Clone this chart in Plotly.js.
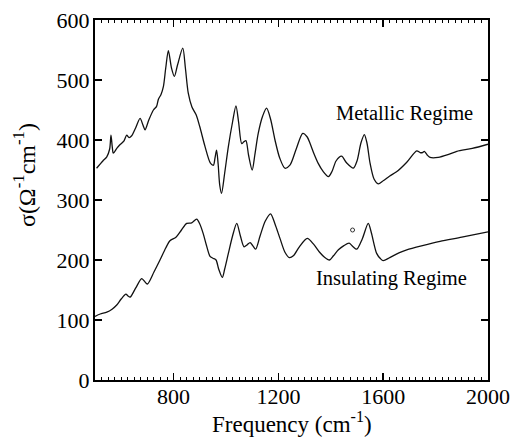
<!DOCTYPE html>
<html>
<head>
<meta charset="utf-8">
<script src="https://cdn.plot.ly/plotly-3.0.1.min.js"></script>
<style>html,body{margin:0;padding:0;background:#fff;}#chart{width:511px;height:440px;}</style>
</head>
<body>
<div id="chart"></div>
<script>
// Metallic regime
const metFreq = [506,530,545,556,561,566,570,583,595,610,621,630,640,655,672,683,691,705,723,735,742,752,761,770,780,792,803,815,835,845,856,870,886,900,920,940,952,958,964,970,976,983,995,1009,1025,1038,1048,1060,1068,1076,1086,1100,1110,1123,1140,1155,1170,1187,1205,1225,1244,1268,1293,1310,1321,1335,1352,1370,1391,1405,1420,1441,1460,1486,1500,1515,1528,1538,1550,1565,1581,1600,1625,1651,1690,1728,1741,1750,1757,1768,1779,1810,1850,1881,1940,2000];
const metSigma = [353,365,372,385,408,388,378,386,392,398,408,404,407,420,436,425,417,433,450,456,468,476,489,520,549,520,506,525,553,520,478,455,442,422,389,362,358,370,383,360,325,311,345,389,430,457,430,394,397,399,375,350,375,411,440,453,435,400,370,353,358,385,411,405,394,378,361,348,339,348,365,373,362,353,365,395,409,395,361,335,327,332,340,347,363,382,379,379,381,375,371,371,376,381,386,393];

// Insulating regime
const insFreq = [500,520,545,565,583,600,618,626,634,655,678,688,700,725,748,770,786,809,830,850,869,888,900,913,925,939,950,962,972,986,995,1009,1025,1041,1055,1069,1080,1092,1102,1113,1130,1150,1170,1187,1206,1225,1242,1257,1280,1310,1335,1359,1375,1395,1410,1429,1450,1470,1485,1499,1520,1543,1555,1575,1590,1600,1625,1660,1690,1750,1817,1900,2000];
const insSigma = [106,110,113,118,125,135,143,140,138,153,169,165,160,180,200,220,232,238,250,261,262,268,260,244,225,206,203,200,185,171,185,211,240,261,240,222,225,229,224,218,240,265,277,260,236,213,204,207,222,236,226,212,205,200,207,217,224,228,222,218,235,261,245,211,202,199,204,212,217,224,231,238,247];

// Stray dot
const dotFreq = [1483];
const dotSigma = [250];

// Tick labels
const xTickVals = [800,1200,1600,2000];
const xTickText = ['800','1200','1600','2000'];
const yTickVals = [0,100,200,300,400,500,600];

const serif = 'Liberation Serif, Times New Roman, DejaVu Serif, serif';

const traces = [
  {x: metFreq, y: metSigma, mode: 'lines', line: {color: '#111', width: 1.3, shape: 'spline', smoothing: 0.8}, hoverinfo: 'skip'},
  {x: insFreq, y: insSigma, mode: 'lines', line: {color: '#111', width: 1.3, shape: 'spline', smoothing: 0.8}, hoverinfo: 'skip'},
  {x: dotFreq, y: dotSigma, mode: 'markers', marker: {symbol: 'circle-open', size: 4, color: '#333', line: {width: 1}}, hoverinfo: 'skip'}
];

const layout = {
  width: 511, height: 440,
  margin: {l: 95, r: 23, t: 20, b: 60},
  paper_bgcolor: '#fff', plot_bgcolor: '#fff',
  showlegend: false,
  font: {family: serif, color: '#000', size: 22},
  xaxis: {
    range: [500, 2000],
    tickvals: xTickVals, ticktext: xTickText,
    ticks: 'inside', ticklen: 7, tickwidth: 1.5, tickcolor: '#000',
    minor: {dtick: 25, tick0: 500, ticks: 'inside', ticklen: 3, tickwidth: 1, tickcolor: '#000'},
    showline: true, linecolor: '#000', linewidth: 2, mirror: 'allticks',
    showgrid: false, zeroline: false,
    ticklabelstandoff: -4
  },
  yaxis: {
    range: [0, 600],
    tickvals: yTickVals,
    ticks: 'inside', ticklen: 7, tickwidth: 1.5, tickcolor: '#000',
    showline: true, linecolor: '#000', linewidth: 2, mirror: 'allticks',
    showgrid: false, zeroline: false,
    ticklabelstandoff: -1
  },
  annotations: [
    {xref: 'paper', yref: 'paper', x: -0.18, y: 0.57, text: 'σ(Ω<sup>-1</sup>cm<sup>-1</sup>)', textangle: -90, showarrow: false, font: {family: serif, size: 24, color: '#000'}, xanchor: 'center', yanchor: 'middle'},
    {xref: 'paper', yref: 'paper', x: 0.5, y: -0.118, text: 'Frequency (cm<sup>-1</sup>)', showarrow: false, font: {family: serif, size: 23, color: '#000'}, xanchor: 'center', yanchor: 'middle'},
    {x: 1681, y: 445, text: 'Metallic Regime', showarrow: false, font: {family: serif, size: 20.5, color: '#000'}},
    {x: 1632, y: 170, text: 'Insulating Regime', showarrow: false, font: {family: serif, size: 20.5, color: '#000'}}
  ]
};

Plotly.newPlot('chart', traces, layout, {displayModeBar: false, staticPlot: true});
</script>
</body>
</html>
